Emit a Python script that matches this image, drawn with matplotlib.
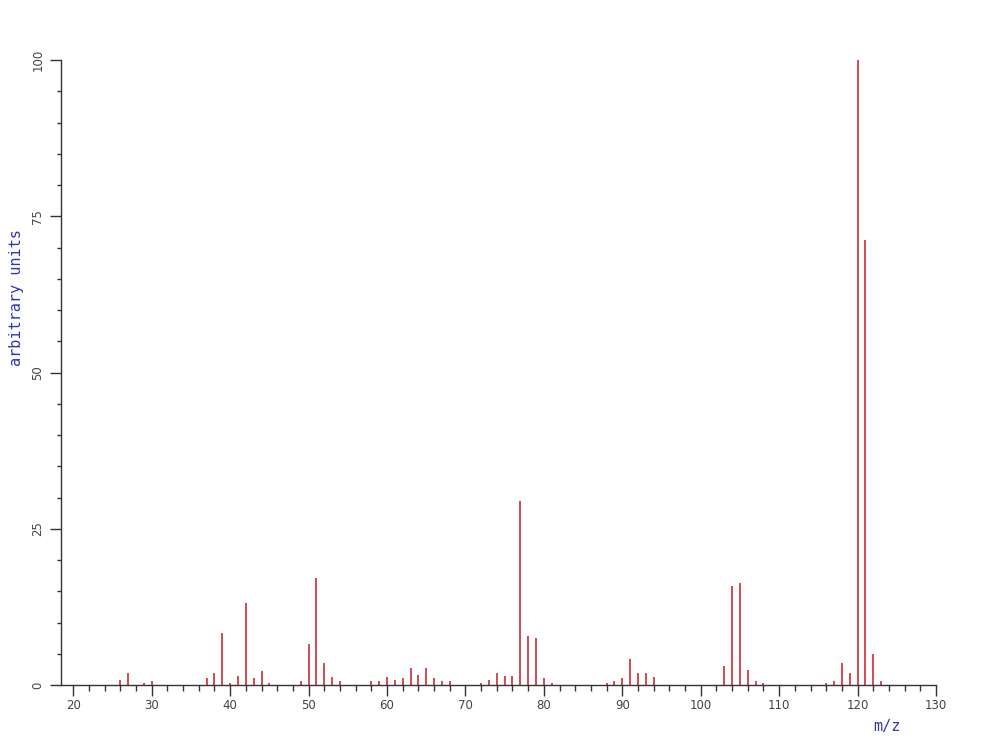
import matplotlib
matplotlib.use("Agg")
import matplotlib.pyplot as plt
from matplotlib.ticker import MultipleLocator

# Data: mass spectrum (m/z vs relative intensity)
mz = [26, 27, 29, 30, 37, 38, 39, 40, 41, 42, 43, 44, 45, 49, 50, 51, 52, 53, 54,
      58, 59, 60, 61, 62, 63, 64, 65, 66, 67, 68, 72, 73, 74, 75, 76, 77, 78, 79,
      80, 81, 88, 89, 90, 91, 92, 93, 94, 103, 104, 105, 106, 107, 108,
      116, 117, 118, 119, 120, 121, 122, 123]
intensity = [0.85, 1.9, 0.4, 0.6, 1.1, 1.9, 8.3, 0.4, 1.5, 13.2, 1.1, 2.3, 0.4, 0.6,
             6.5, 17.2, 3.5, 1.3, 0.6, 0.6, 0.6, 1.3, 0.85, 1.1, 2.7, 1.65, 2.7, 1.1,
             0.6, 0.6, 0.4, 0.85, 1.9, 1.5, 1.5, 29.5, 7.8, 7.5, 1.1, 0.4, 0.4, 0.6,
             1.1, 4.1, 2.0, 2.0, 1.3, 3.0, 15.9, 16.4, 2.45, 0.6, 0.4, 0.4, 0.6, 3.5,
             1.9, 100, 71.2, 5.0, 0.6]
x_ticks = [20, 30, 40, 50, 60, 70, 80, 90, 100, 110, 120, 130]
y_ticks = [0, 25, 50, 75, 100]

fig = plt.figure(figsize=(9.93, 7.43), dpi=100)
ax = fig.add_axes([61 / 993, 1 - 685 / 743, (936 - 61) / 993, (685 - 60) / 743])

ax.vlines(mz, 0, intensity, colors="#cc2a36", linewidth=1.2)

ax.set_xlim(18.43, 130)
ax.set_ylim(0, 100)

for s in ["top", "right"]:
    ax.spines[s].set_visible(False)
for s in ["left", "bottom"]:
    ax.spines[s].set_color("#333333")
    ax.spines[s].set_linewidth(1.0)

ax.set_xticks(x_ticks)
ax.set_xticklabels([str(v) for v in x_ticks])
ax.xaxis.set_minor_locator(MultipleLocator(2))
ax.set_yticks(y_ticks)
ax.set_yticklabels([str(v) for v in y_ticks], rotation=90, va="center")
ax.yaxis.set_minor_locator(MultipleLocator(5))

ax.tick_params(axis="both", which="major", direction="out", length=8, width=1,
               color="#333333", labelsize=8.5, labelcolor="#444444")
ax.tick_params(axis="x", which="minor", direction="out", length=4, width=1,
               color="#333333")
ax.tick_params(axis="y", which="minor", direction="out", length=3, width=1,
               color="#333333")
ax.tick_params(axis="x", which="major", pad=2)
ax.tick_params(axis="y", which="major", pad=4)

fig.text(887 / 993, 1 - 727 / 743, "m/z", color="#3333bb", fontsize=11,
         family="DejaVu Sans Mono", ha="center", va="center")
fig.text(17 / 993, 1 - 298 / 743, "arbitrary units", color="#3333bb", fontsize=11,
         family="DejaVu Sans Mono", ha="center", va="center", rotation=90)

fig.savefig("out.png", dpi=100)
